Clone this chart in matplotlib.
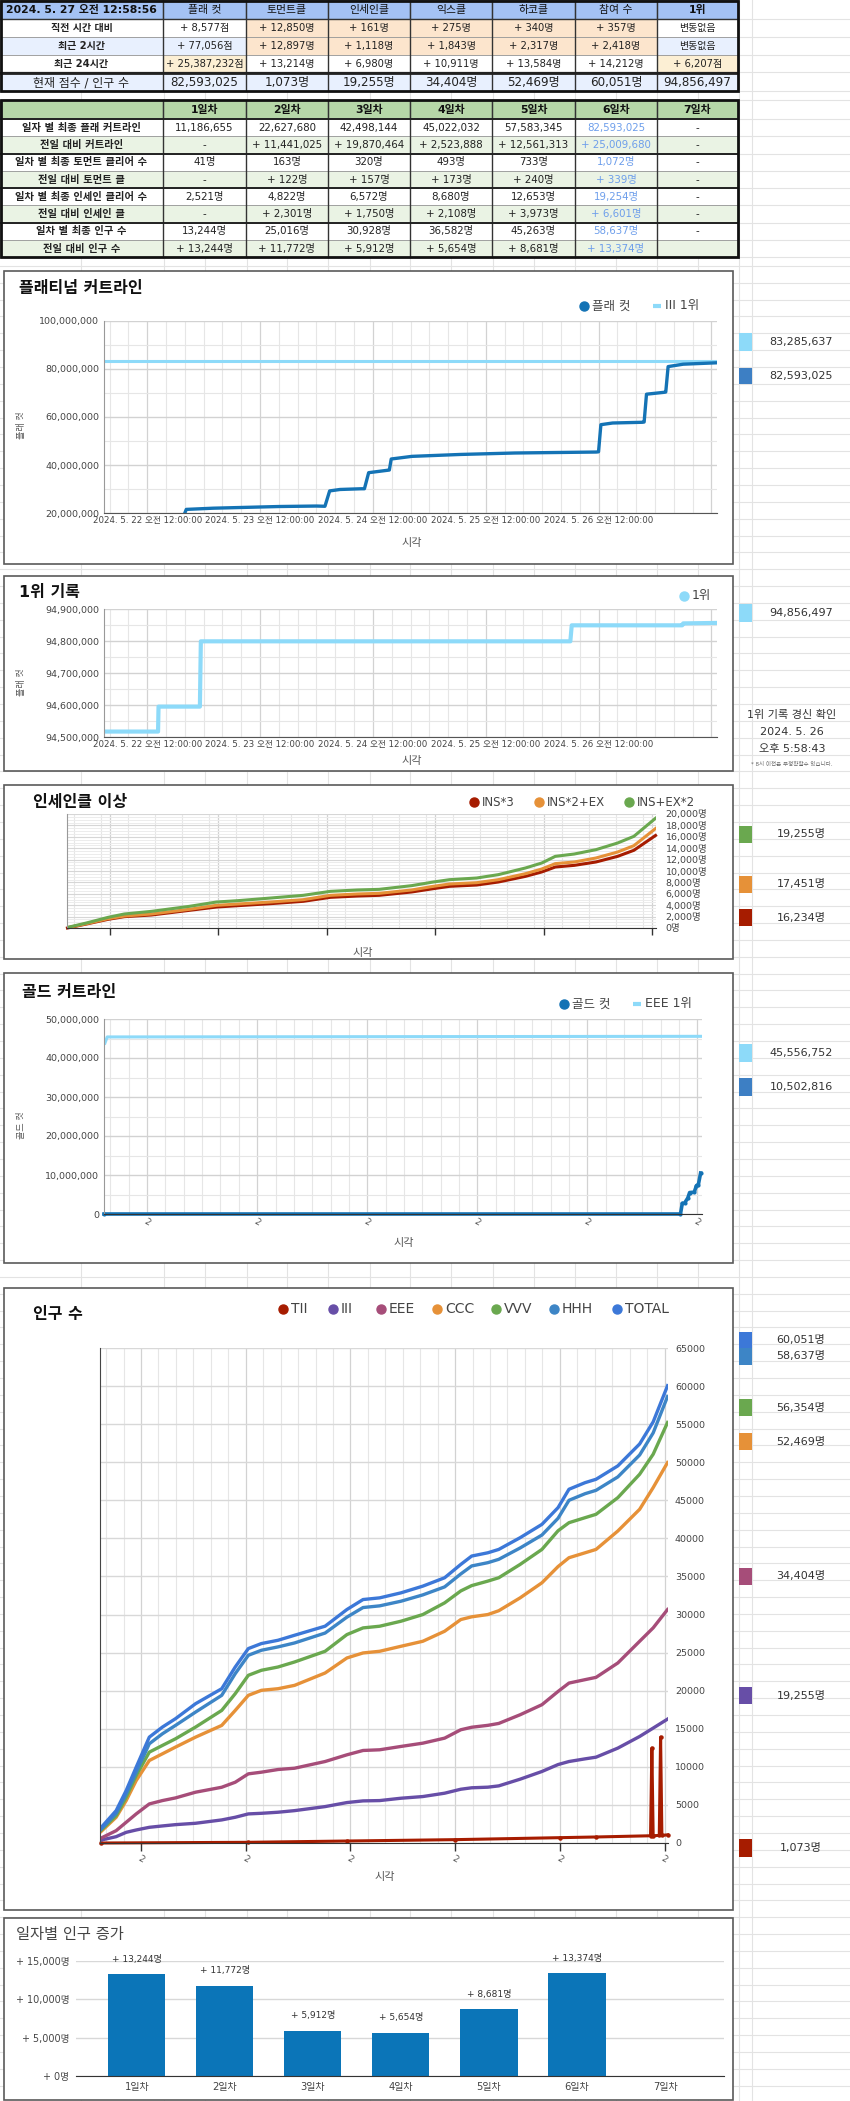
import numpy as np
import matplotlib
matplotlib.use('Agg')
import matplotlib.pyplot as plt
from matplotlib import font_manager as fm
from matplotlib.patches import Rectangle
from matplotlib.ticker import FuncFormatter

W, H = 850, 2101

names = {f.name for f in fm.fontManager.ttflist}
NARROW = 'Liberation Sans Narrow' if 'Liberation Sans Narrow' in names else 'DejaVu Sans'
KR = 'Noto Sans CJK KR'
TFONT = ['DejaVu Sans', KR]     # table font (Verdana-like digits)
CFONT = [NARROW, KR]            # chart font
plt.rcParams['font.family'] = CFONT

# ---------------- data ----------------
stamp = '2024. 5. 27 오전 12:58:56'
top_cols = ['플래 컷', '토먼트클', '인세인클', '익스클', '하코클', '참여 수', '1위']
top_rows = ['직전 시간 대비', '최근 2시간', '최근 24시간', '현재 점수 / 인구 수']
top_vals = [
    ['+ 8,577점', '+ 12,850명', '+ 161명', '+ 275명', '+ 340명', '+ 357명', '변동없음'],
    ['+ 77,056점', '+ 12,897명', '+ 1,118명', '+ 1,843명', '+ 2,317명', '+ 2,418명', '변동없음'],
    ['+ 25,387,232점', '+ 13,214명', '+ 6,980명', '+ 10,911명', '+ 13,584명', '+ 14,212명', '+ 6,207점'],
    ['82,593,025', '1,073명', '19,255명', '34,404명', '52,469명', '60,051명', '94,856,497'],
]

day_cols = ['1일차', '2일차', '3일차', '4일차', '5일차', '6일차', '7일차']
day_rows = ['일자 별 최종 플래 커트라인', '전일 대비 커트라인', '일차 별 최종 토먼트 클리어 수',
            '전일 대비 토먼트 클', '일차 별 최종 인세인 클리어 수', '전일 대비 인세인 클',
            '일차 별 최종 인구 수', '전일 대비 인구 수']
day_vals = [
    ['11,186,655', '22,627,680', '42,498,144', '45,022,032', '57,583,345', '82,593,025', '-'],
    ['-', '+ 11,441,025', '+ 19,870,464', '+ 2,523,888', '+ 12,561,313', '+ 25,009,680', '-'],
    ['41명', '163명', '320명', '493명', '733명', '1,072명', '-'],
    ['-', '+ 122명', '+ 157명', '+ 173명', '+ 240명', '+ 339명', '-'],
    ['2,521명', '4,822명', '6,572명', '8,680명', '12,653명', '19,254명', '-'],
    ['-', '+ 2,301명', '+ 1,750명', '+ 2,108명', '+ 3,973명', '+ 6,601명', '-'],
    ['13,244명', '25,016명', '30,928명', '36,582명', '45,263명', '58,637명', '-'],
    ['+ 13,244명', '+ 11,772명', '+ 5,912명', '+ 5,654명', '+ 8,681명', '+ 13,374명', ''],
]

# time axis: hours since 2024-05-22 00:00
day_hours = [0, 24, 48, 72, 96, 120]
day_labels = ['2024. 5. 22 오전 12:00:00', '2024. 5. 23 오전 12:00:00', '2024. 5. 24 오전 12:00:00',
              '2024. 5. 25 오전 12:00:00', '2024. 5. 26 오전 12:00:00']

# platinum cut line
plat_t = [8.0, 8.3, 14, 20, 28, 36, 37.8, 38.8, 41, 45.5, 46.2, 47.1, 51.1, 51.5, 51.9, 56.3, 66.7,
          78.2, 95.5, 96.0, 96.5, 99.0, 105.3, 105.7, 106.2, 110.0, 110.3, 110.8, 114.0, 121.2]
plat_cut = [20.0e6, 21.5e6, 22.0e6, 22.3e6, 22.7e6, 22.9e6, 22.8e6, 29.2e6, 29.8e6, 30.1e6, 30.1e6,
            36.8e6, 37.8e6, 37.9e6, 42.5e6, 43.6e6, 44.4e6, 45.0e6, 45.4e6, 45.5e6, 56.8e6, 57.5e6,
            57.8e6, 57.9e6, 69.5e6, 70.3e6, 70.4e6, 81.0e6, 82.0e6, 82593025]
iii_top_t = [-9.2, 121.2]
iii_top = [83285637, 83285637]

# first place record
first_t = [-8.9, 2.3, 2.4, 11.2, 11.4, 90.0, 90.3, 113.8, 114.0, 121.2]
first_rec = [94517000, 94517000, 94595000, 94595000, 94799000, 94799000, 94849000, 94849000,
             94855000, 94856497]

# insane+ clears
ins_t = [-9.4, -5.2, -0.4, 3.2, 9.2, 17.6, 23.6, 28.4, 35.6, 42.8, 48.8, 54.8, 59.6, 66.8, 71.6,
         75.2, 81.2, 86.0, 92.0, 95.6, 98.6, 102.8, 107.6, 112.4, 116.0, 120.8]
ins3 = [0, 700, 1520, 1990, 2280, 3100, 3680, 3920, 4270, 4680, 5380, 5610, 5730, 6320, 6900,
        7310, 7540, 8070, 9060, 9830, 10700, 10990, 11580, 12570, 13630, 16234]
ins2ex = [60, 760, 1640, 2100, 2460, 3280, 3980, 4210, 4560, 4970, 5730, 5970, 6080, 6670, 7310,
          7720, 7950, 8480, 9530, 10350, 11290, 11580, 12280, 13330, 14440, 17451]
insex2 = [100, 880, 1870, 2460, 2920, 3800, 4560, 4800, 5260, 5730, 6430, 6670, 6780, 7430, 8070,
          8480, 8770, 9360, 10530, 11400, 12570, 12980, 13740, 14910, 16080, 19255]

# gold cut line
gold_t = [-9.4, 116.3, 116.7, 117.2, 117.9, 118.3, 119.3, 119.8, 120.2, 120.7]
gold_cut = [0, 0, 2.7e6, 2.8e6, 4.1e6, 5.5e6, 5.6e6, 7.3e6, 7.5e6, 10502816]
eee_top_t = [-9.2, -8.7, 121.0]
eee_top = [43.8e6, 45.4e6, 45556752]

# population
pop_t = [-9.1, -5.7, -3.4, -1.1, 1.9, 4.9, 7.9, 12.5, 18.5, 21.6, 24.6, 27.6, 31.4, 35.2, 42.2,
         47.2, 50.9, 54.7, 59.6, 64.6, 69.6, 73.3, 75.8, 79.5, 82.0, 86.9, 91.9, 95.6, 98.1,
         101.8, 104.3, 109.3, 114.3, 117.4, 120.7]
pop_total = [2060, 4250, 6890, 9960, 13900, 15220, 16320, 18290, 20260, 23110, 25530, 26190, 26620,
             27280, 28470, 30660, 31970, 32190, 32850, 33730, 34830, 36580, 37680, 38110, 38550,
             40090, 41840, 44040, 46450, 47320, 47760, 49520, 52400, 55300, 60051]
pop_hhh = [1840, 3900, 6450, 9300, 13030, 14340, 15440, 17190, 19390, 22240, 24650, 25310, 25750,
           26270, 27570, 29660, 30920, 31140, 31750, 32580, 33630, 35330, 36380, 36810, 37250,
           38740, 40440, 42640, 45000, 45870, 46310, 48070, 50950, 53850, 58637]
pop_vvv = [1710, 3600, 6010, 8860, 11930, 12810, 13680, 15220, 17410, 19610, 22020, 22680, 23110,
           23770, 25175, 27368, 28246, 28465, 29123, 30000, 31535, 33100, 33800, 34390, 34830,
           36580, 38550, 41000, 42060, 42720, 43160, 45350, 48420, 51050, 55220]
pop_ccc = [1540, 3380, 5570, 8200, 10830, 11710, 12590, 13900, 15440, 17410, 19390, 20050, 20260,
           20700, 22325, 24298, 24956, 25175, 25833, 26491, 27807, 29342, 29700, 30000, 30500,
           32190, 34170, 36300, 37460, 38110, 38550, 40970, 43820, 46670, 49960]
pop_eee = [660, 1620, 2720, 3820, 5130, 5570, 5920, 6670, 7320, 7980, 9080, 9300, 9650, 9820,
           10700, 11580, 12150, 12240, 12680, 13110, 13770, 14870, 15200, 15450, 15700, 16840,
           18160, 19900, 21000, 21450, 21750, 23640, 26490, 28250, 30660]
pop_iii = [390, 830, 1400, 1710, 2060, 2240, 2410, 2590, 3030, 3380, 3820, 3900, 4040, 4250, 4780,
           5310, 5530, 5570, 5880, 6100, 6540, 7060, 7250, 7330, 7500, 8380, 9390, 10300, 10700,
           11050, 11270, 12460, 13990, 15090, 16270]
tii_t = [-9.1, 24.6, 47.2, 72.0, 96.0, 104.3, 116.8, 117.1, 117.4, 118.8, 119.1, 119.4, 120.7]
pop_tii = [0, 90, 260, 440, 700, 790, 950, 12460, 960, 990, 13900, 1000, 1073]

growth_days = ['1일차', '2일차', '3일차', '4일차', '5일차', '6일차', '7일차']
growth = [13244, 11772, 5912, 5654, 8681, 13374, np.nan]

# ---------------- colours ----------------
C_PLAT = '#1473b5'
C_TOP = '#8ddaf9'
C_TII, C_III, C_EEE = '#a61c00', '#674ea7', '#a64d79'
C_CCC, C_VVV, C_HHH, C_TOT = '#e69138', '#6aa84f', '#3d85c6', '#3c78d8'
GRID_MIN, GRID_MAJ = '#e6e6e6', '#d2d2d2'

fig = plt.figure(figsize=(W / 100, H / 100), dpi=100)
bg = fig.add_axes([0, 0, 1, 1])
bg.set_xlim(0, W)
bg.set_ylim(H, 0)
bg.axis('off')


def add_ax(l, t, r, b):
    return fig.add_axes([l / W, 1 - b / H, (r - l) / W, (b - t) / H])


def txt(x, y, s, size=8, fam=CFONT, **kw):
    kw.setdefault('ha', 'left')
    kw.setdefault('va', 'center')
    bg.text(x, y, s, fontsize=size, fontfamily=fam, **kw)


# spreadsheet grid in the background
hl = [19, 37, 55, 72, 91, 100] + list(119 + 17.25 * np.arange(9)) + list(265.9 + 16.85 * np.arange(110))
for y in hl:
    bg.plot([0, W], [y, y], color='#e3e3e3', lw=0.8, zorder=0)
for x in [81, 164, 205, 247, 287, 328, 370, 410, 451, 493, 534, 575, 616, 657, 698, 739, 752]:
    bg.plot([x, x], [0, H], color='#e3e3e3', lw=0.8, zorder=0)

# ---------------- top table ----------------
tcx = [0, 163, 246, 328, 410, 492, 575, 657, 738]
BLUE_H, BLUE_L, ORNG, PEACH = '#a4c2f4', '#e8f0fe', '#fce5cd', '#fcefd4'
row_y = [(19, 37), (37, 55), (55, 72), (74, 91)]
bgs = [
    ['white', 'white'] + [ORNG] * 5 + ['white'],
    [BLUE_L, BLUE_L] + [ORNG] * 5 + [BLUE_L],
    ['white', PEACH] + ['white'] * 5 + [PEACH],
    [BLUE_L] * 8,
]
for j in range(8):
    bg.add_patch(Rectangle((tcx[j], 0), tcx[j + 1] - tcx[j], 19, fc=BLUE_H, ec='#555', lw=0.8, zorder=2))
    lab = stamp if j == 0 else top_cols[j - 1]
    bold = j == 0 or j == 7
    txt((tcx[j] + tcx[j + 1]) / 2, 9.7, lab, size=7.8, fam=TFONT, ha='center',
        weight='bold' if bold else 'normal', color='#111', zorder=3)
for i, (y0, y1) in enumerate(row_y):
    big = i == 3
    for j in range(8):
        bg.add_patch(Rectangle((tcx[j], y0), tcx[j + 1] - tcx[j], y1 - y0, fc=bgs[i][j],
                               ec='#9a9a9a', lw=0.6, zorder=2))
        s = top_rows[i] if j == 0 else top_vals[i][j - 1]
        txt((tcx[j] + tcx[j + 1]) / 2, (y0 + y1) / 2 + 0.3, s, size=8.6 if big else 7.2, fam=TFONT,
            ha='center', weight='bold' if (j == 0 and not big) else 'normal', color='#222', zorder=3)
for x in tcx[1:-1]:
    bg.plot([x, x], [0, 91], color='#333', lw=1.0, zorder=4)
bg.plot([0, 738], [19, 19], color='#333', lw=1.0, zorder=4)
bg.plot([0, 738], [72.5, 72.5], color='#222', lw=1.6, zorder=4)
bg.plot([0, 738], [74, 74], color='#222', lw=1.2, zorder=4)
bg.add_patch(Rectangle((0.5, 0.5), 737.5, 90.5, fc='none', ec='#111', lw=2, zorder=5))

# ---------------- daily table ----------------
dy = list(119 + 17.25 * np.arange(9))
GREEN_H, GREEN_L = '#b6d7a8', '#eaf3e4'
for j in range(8):
    bg.add_patch(Rectangle((tcx[j], 100), tcx[j + 1] - tcx[j], 19, fc=GREEN_H, ec='#555', lw=0.8, zorder=2))
    if j > 0:
        txt((tcx[j] + tcx[j + 1]) / 2, 109.7, day_cols[j - 1], size=7.8, fam=TFONT, ha='center',
            weight='bold', color='#111', zorder=3)
for i in range(8):
    y0, y1 = dy[i], dy[i + 1]
    fc = GREEN_L if i % 2 == 1 else 'white'
    for j in range(8):
        bg.add_patch(Rectangle((tcx[j], y0), tcx[j + 1] - tcx[j], y1 - y0, fc=fc, ec='#9a9a9a',
                               lw=0.6, zorder=2))
        s = day_rows[i] if j == 0 else day_vals[i][j - 1]
        col = '#6d9eeb' if j == 6 else '#222'
        txt((tcx[j] + tcx[j + 1]) / 2, (y0 + y1) / 2 + 0.3, s, size=7.4, fam=TFONT, ha='center',
            weight='bold' if j == 0 else 'normal', color=col, zorder=3)
for x in tcx[1:-1]:
    bg.plot([x, x], [100, dy[-1]], color='#333', lw=1.0, zorder=4)
for k in [0, 2, 4, 6]:
    bg.plot([0, 738], [dy[k], dy[k]], color='#222', lw=1.4, zorder=4)
bg.add_patch(Rectangle((0.5, 100), 737.5, dy[-1] - 100, fc='none', ec='#111', lw=2, zorder=5))

# ---------------- chart frames ----------------
frames = [(4, 271, 733, 564), (4, 576, 733, 771), (4, 785, 733, 959), (4, 973, 733, 1263),
          (4, 1288, 733, 1910), (4, 1918, 733, 2100)]
for l, t, r, b in frames:
    bg.add_patch(Rectangle((l, t), r - l, b - t, fc='white', ec='#5a5a5a', lw=1.2, zorder=6))


def tile(y0, y1, color, label):
    bg.add_patch(Rectangle((739, y0), 13, y1 - y0, fc=color, ec='none', zorder=6))
    txt(801, (y0 + y1) / 2, label, size=8, ha='center', color='#333', zorder=7)


def legend_item(x, y, color, label, kind='dot', size=8.5):
    if kind == 'dot':
        bg.plot([x], [y], marker='o', ms=6.5, color=color, zorder=7)
    else:
        bg.plot([x - 4, x + 4], [y, y], color=color, lw=3, zorder=7, solid_capstyle='butt')
    txt(x + 8, y, label, size=size, color='#444', zorder=7)


def ylab(x, y, s):
    txt(x, y, s, size=6.5, rotation=90, ha='center', color='#555', zorder=7)


def xlab(x, y, s):
    txt(x, y, s, size=8, ha='center', color='#555', zorder=7)


def comma(v, pos=None):
    return f'{v:,.0f}'


def time_axis(ax, x0, x1, minor_step, ticklen=0):
    ax.set_xlim(x0, x1)
    ax.set_xticks(np.arange(-8, 122, minor_step), minor=True)
    ax.set_xticks(day_hours)
    ax.grid(which='minor', axis='x', color=GRID_MIN, lw=0.8)
    ax.grid(which='major', axis='x', color=GRID_MAJ, lw=0.9)
    ax.tick_params(axis='x', which='minor', length=0)
    ax.tick_params(axis='x', which='major', length=ticklen, width=1, color='#333', labelsize=6.2,
                   labelcolor='#444', pad=2)


def base_style(ax):
    ax.set_facecolor('none')
    ax.spines['top'].set_visible(False)
    ax.spines['right'].set_visible(False)
    ax.spines['left'].set_color('#999')
    ax.spines['bottom'].set_color('#555')
    ax.set_axisbelow(True)
    ax.tick_params(axis='y', length=0, labelsize=6.8, labelcolor='#444')


# ---------------- chart 1: platinum cut ----------------
ax1 = add_ax(104, 321, 717, 513)
base_style(ax1)
ax1.plot(iii_top_t, iii_top, color=C_TOP, lw=2.2)
ax1.plot(plat_t, plat_cut, color=C_PLAT, lw=2.4)
ax1.set_ylim(20e6, 100e6)
ax1.set_yticks(np.arange(20e6, 100.1e6, 20e6))
ax1.set_yticks(np.arange(30e6, 100e6, 20e6), minor=True)
ax1.yaxis.set_major_formatter(FuncFormatter(comma))
ax1.grid(which='major', axis='y', color=GRID_MAJ, lw=1)
ax1.grid(which='minor', axis='y', color=GRID_MIN, lw=0.8)
ax1.tick_params(axis='y', which='minor', length=0)
time_axis(ax1, -9.2, 121.2, 4)
ax1.set_xticklabels(day_labels + [''])
txt(19, 289, '플래티넘 커트라인', size=11.5, weight='bold', color='#111', zorder=7)
legend_item(584, 306, C_PLAT, '플래 컷', size=9)
legend_item(657, 306, C_TOP, 'III 1위', kind='dash', size=9)
ylab(22, 425, '플래 컷')
xlab(412, 543, '시각')
tile(333, 351, C_TOP, '83,285,637')
tile(368, 384, '#3d7fc4', '82,593,025')

# ---------------- chart 2: first place ----------------
ax2 = add_ax(104, 609, 717, 737)
base_style(ax2)
ax2.plot(first_t, first_rec, color=C_TOP, lw=3)
ax2.set_ylim(94.5e6, 94.9e6)
ax2.set_yticks(np.arange(94.5e6, 94.90001e6, 0.1e6))
ax2.set_yticks(np.arange(94.55e6, 94.9e6, 0.1e6), minor=True)
ax2.yaxis.set_major_formatter(FuncFormatter(comma))
ax2.grid(which='major', axis='y', color=GRID_MAJ, lw=1)
ax2.grid(which='minor', axis='y', color=GRID_MIN, lw=0.8)
ax2.tick_params(axis='y', which='minor', length=0)
time_axis(ax2, -9.2, 121.2, 4)
ax2.set_xticklabels(day_labels + [''])
txt(19, 592, '1위 기록', size=11.5, weight='bold', color='#111', zorder=7)
legend_item(684, 596, C_TOP, '1위', size=9)
ylab(22, 682, '플래 컷')
xlab(412, 761, '시각')
tile(604, 622, C_TOP, '94,856,497')
txt(792, 715, '1위 기록 경신 확인', size=8, ha='center', color='#333', zorder=7)
txt(792, 732, '2024. 5. 26', size=8, ha='center', color='#333', zorder=7)
txt(792, 749, '오후 5:58:43', size=8, ha='center', color='#333', zorder=7)
txt(792, 764, '* 8시 이전은 부정확할수 있습니다.', size=4, ha='center', color='#666', zorder=7)

# ---------------- chart 3: insane+ ----------------
ax3 = add_ax(67, 814, 656, 928)
base_style(ax3)
ax3.plot(ins_t, ins3, color=C_TII, lw=2.2, clip_on=False)
ax3.plot(ins_t, ins2ex, color=C_CCC, lw=2.2)
ax3.plot(ins_t, insex2, color=C_VVV, lw=2.2)
ax3.set_ylim(0, 20000)
ax3.yaxis.tick_right()
ax3.set_yticks(np.arange(0, 20001, 2000))
ax3.set_yticks(np.arange(500, 20000, 500), minor=True)
ax3.yaxis.set_major_formatter(FuncFormatter(lambda v, p: f'{v:,.0f}명'))
ax3.grid(which='major', axis='y', color='#d6d6d6', lw=0.8)
ax3.grid(which='minor', axis='y', color='#ececec', lw=0.7)
ax3.tick_params(axis='y', which='both', length=0, pad=7, labelsize=6.8)
time_axis(ax3, -9.5, 120.9, 6, ticklen=5)
ax3.set_xticklabels([])
ax3.spines['bottom'].set_color('#333')
txt(33, 802, '인세인클 이상', size=11.5, weight='bold', color='#111', zorder=7)
legend_item(474, 802, C_TII, 'INS*3')
legend_item(539, 802, C_CCC, 'INS*2+EX')
legend_item(629, 802, C_VVV, 'INS+EX*2')
xlab(363, 953, '시각')
tile(826, 843, C_VVV, '19,255명')
tile(876, 893, C_CCC, '17,451명')
tile(909, 926, C_TII, '16,234명')

# ---------------- chart 4: gold cut ----------------
ax4 = add_ax(104, 1019, 702, 1214)
base_style(ax4)
ax4.plot(eee_top_t, eee_top, color=C_TOP, lw=2.2)
ax4.plot(gold_t, gold_cut, color=C_PLAT, lw=2.6, marker='o', ms=2, clip_on=False)
ax4.set_ylim(0, 50e6)
ax4.set_yticks(np.arange(0, 50.1e6, 10e6))
ax4.set_yticks(np.arange(5e6, 50e6, 10e6), minor=True)
ax4.yaxis.set_major_formatter(FuncFormatter(comma))
ax4.grid(which='major', axis='y', color=GRID_MAJ, lw=1)
ax4.grid(which='minor', axis='y', color=GRID_MIN, lw=0.8)
ax4.tick_params(axis='y', which='minor', length=0)
time_axis(ax4, -9.4, 121.0, 4)
ax4.set_xticklabels(['2'] * 6, rotation=-30, fontsize=6.5, color='#555')
ax4.spines['bottom'].set_color('#333')
txt(22, 992, '골드 커트라인', size=11.5, weight='bold', color='#111', zorder=7)
legend_item(564, 1004, C_PLAT, '골드 컷', size=9)
legend_item(637, 1004, C_TOP, 'EEE 1위', kind='dash', size=9)
ylab(22, 1125, '골드 컷')
xlab(404, 1243, '시각')
tile(1044, 1062, C_TOP, '45,556,752')
tile(1078, 1096, '#3d7fc4', '10,502,816')

# ---------------- chart 5: population ----------------
ax5 = add_ax(100, 1348, 668, 1843)
base_style(ax5)
ax5.spines['left'].set_color('#444')
ax5.spines['bottom'].set_color('#333')
ax5.plot(tii_t, pop_tii, color=C_TII, lw=2.2, marker='o', ms=2.2, clip_on=False)
ax5.plot(pop_t, pop_iii, color=C_III, lw=2.4)
ax5.plot(pop_t, pop_eee, color=C_EEE, lw=2.4)
ax5.plot(pop_t, pop_ccc, color=C_CCC, lw=2.4)
ax5.plot(pop_t, pop_vvv, color=C_VVV, lw=2.4)
ax5.plot(pop_t, pop_hhh, color=C_HHH, lw=2.4)
ax5.plot(pop_t, pop_total, color=C_TOT, lw=2.4)
ax5.set_ylim(0, 65000)
ax5.yaxis.tick_right()
ax5.set_yticks(np.arange(0, 65001, 5000))
ax5.grid(which='major', axis='y', color='#d8d8d8', lw=1)
ax5.tick_params(axis='y', length=0, pad=5, labelsize=6.8)
time_axis(ax5, -9.4, 120.8, 4, ticklen=6)
ax5.set_xticklabels(['2'] * 6, rotation=-30, fontsize=6.5, color='#555')
txt(33, 1314, '인구 수', size=11.5, weight='bold', color='#111', zorder=7)
for x, c, s in [(283, C_TII, 'TII'), (333, C_III, 'III'), (381, C_EEE, 'EEE'), (437, C_CCC, 'CCC'),
                (496, C_VVV, 'VVV'), (554, C_HHH, 'HHH'), (617, C_TOT, 'TOTAL')]:
    legend_item(x, 1309, c, s, size=10)
xlab(385, 1877, '시각')
tile(1332, 1348, C_TOT, '60,051명')
tile(1348, 1365, C_HHH, '58,637명')
tile(1399, 1416, C_VVV, '56,354명')
tile(1433, 1450, C_CCC, '52,469명')
tile(1568, 1585, C_EEE, '34,404명')
tile(1687, 1704, C_III, '19,255명')
tile(1839, 1857, C_TII, '1,073명')

# ---------------- chart 6: daily growth ----------------
ax6 = add_ax(76, 1961, 724, 2076)
base_style(ax6)
ax6.spines['left'].set_visible(False)
ax6.spines['bottom'].set_color('#333')
xs = np.arange(len(growth_days))
ax6.bar(xs, growth, width=0.65, color='#0b75b8')
for x, v in zip(xs, growth):
    if not np.isnan(v):
        ax6.annotate(f'+ {v:,.0f}명', (x, v), xytext=(0, 11), textcoords='offset points',
                     ha='center', va='center', fontsize=6.5, color='#333', annotation_clip=False)
ax6.set_xlim(-0.69, 6.67)
ax6.set_ylim(0, 15000)
ax6.set_yticks(np.arange(0, 15001, 5000))
ax6.yaxis.set_major_formatter(FuncFormatter(lambda v, p: f'+ {v:,.0f}명'))
ax6.grid(axis='y', color='#d8d8d8', lw=1)
ax6.set_xticks(xs)
ax6.set_xticklabels(growth_days)
ax6.tick_params(axis='x', length=0, labelsize=7.2, labelcolor='#444', pad=4)
ax6.tick_params(axis='y', length=0, labelsize=6.9, pad=5)
txt(16, 1935, '일자별 인구 증가', size=11, color='#444', zorder=7)

fig.savefig('out.png', dpi=100)
